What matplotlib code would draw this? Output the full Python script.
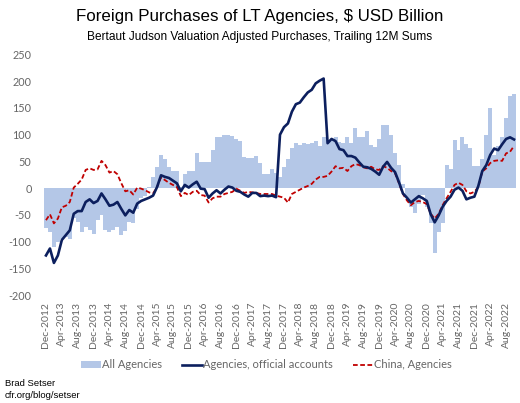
import matplotlib
matplotlib.use("Agg")
import matplotlib.pyplot as plt
import numpy as np
import pandas as pd

# monthly, Dec-2012 .. Oct-2022
months = pd.period_range("2012-12", "2022-10", freq="M")

all_agencies = [
    -74, -82, -110, -100, -95, -92, -95, -55, -63, -82,
    -72, -79, -85, -60, -51, -79, -82, -78, -72, -88,
    -80, -63, -66, -40, -18, -15, 3, 21, 40, 62,
    54, 40, 32, 32, 3, 27, 32, 32, 66, 49,
    49, 49, 71, 96, 96, 100, 100, 97, 92, 88,
    59, 56, 57, 60, 47, 27, 27, 35, 29, 20,
    40, 54, 75, 85, 81, 84, 82, 85, 89, 79,
    96, 90, 92, 95, 87, 85, 95, 84, 112, 95,
    95, 107, 81, 77, 91, 118, 118, 99, 65, 43,
    8, -18, -35, -46, -29, -13, -35, -66, -121, -82,
    -66, 43, 35, 90, 71, 96, 82, 75, 42, 42,
    55, 100, 149, 62, 78, 95, 132, 172, 176,
]

official = [
    -126, -113, -140, -126, -97, -88, -79, -48, -43, -43,
    -26, -21, -28, -24, -10, -21, -33, -31, -26, -39,
    -51, -41, -46, -29, -24, -21, -18, -14, 2, 24,
    21, 19, 14, 9, -6, 6, 1, 7, 12, -1,
    -2, -18, -10, -4, -10, -3, 3, 1, -5, -7,
    -12, -16, -9, -9, -15, -14, -15, -14, -17, 100,
    114, 121, 143, 157, 160, 170, 179, 184, 196, 201,
    205, 84, 92, 88, 73, 71, 60, 60, 57, 48,
    40, 39, 36, 31, 25, 40, 49, 38, 30, 11,
    -10, -18, -27, -21, -15, -19, -24, -49, -64, -51,
    -35, -24, -16, -3, 1, -5, -21, -18, -16, 4,
    32, 43, 62, 74, 71, 82, 92, 95, 91,
]

china = [
    -60, -49, -66, -57, -36, -33, -26, 1, 8, 16,
    34, 37, 34, 35, 51, 43, 29, 32, 26, 9,
    -6, -4, -12, 1, -1, -4, -8, -10, 2, 20,
    15, 10, 6, 2, -15, -9, -13, -7, -5, -13,
    -14, -27, -19, -16, -16, -11, -9, -7, -1, -5,
    -9, -7, -8, -9, -11, -11, -11, -11, -14, -16,
    -18, -27, -11, -7, -3, 1, 4, 8, 16, 21,
    21, 23, 31, 41, 37, 38, 32, 41, 45, 43,
    39, 37, 40, 35, 34, 41, 38, 32, 28, 9,
    -11, -23, -32, -26, -24, -26, -30, -48, -57, -48,
    -32, -19, -7, 6, 10, 6, -6, -10, -7, 2,
    31, 37, 47, 51, 52, 51, 65, 68, 79,
]

y_ticks = list(range(-200, 251, 50))

x = np.arange(len(months))
tick_pos = x[::4]
tick_labels = [m.strftime("%b-%Y") for m in months[::4]]

gray = "#666666"
fig = plt.figure(figsize=(5.2, 4.03), dpi=100)
ax = fig.add_axes([44 / 520, 108 / 403, 472 / 520, 240.5 / 403])

bars = ax.bar(x, all_agencies, width=1.0, color="#b4c7e7", label="All Agencies", zorder=1)
l1, = ax.plot(x, official, color="#0c1f5e", lw=1.9, label="Agencies, official accounts", zorder=3)
l2, = ax.plot(x, china, color="#c00000", lw=1.3, dashes=(2.6, 1.4), label="China, Agencies", zorder=2)

ax.set_xlim(-0.5, len(months) - 0.5)
ax.set_ylim(-200, 250)
ax.set_yticks(y_ticks)
ax.set_yticklabels([str(v) for v in y_ticks], family="Lato", fontsize=7.8, color=gray)
ax.set_xticks(tick_pos)
ax.set_xticklabels(tick_labels, rotation=90, family="Lato", fontsize=7.5, color=gray)
ax.tick_params(axis="both", length=0)
ax.tick_params(axis="y", pad=9)
ax.tick_params(axis="x", pad=5)
for s in ax.spines.values():
    s.set_visible(False)

fig.text(0.5, 1 - 17 / 403, "Foreign Purchases of LT Agencies, \\$ USD Billion",
         ha="center", va="center", family="Liberation Sans", fontsize=12.2)
fig.text(0.5, 1 - 37 / 403, "Bertaut Judson Valuation Adjusted Purchases, Trailing 12M Sums",
         ha="center", va="center", family="Liberation Sans", fontsize=8.6)

leg = fig.legend(handles=[bars, l1, l2], loc="center", bbox_to_anchor=(0.512, 1 - 365 / 403),
                 ncol=3, frameon=False, prop={"family": "Lato", "size": 8},
                 handlelength=1.8, handleheight=0.6, handletextpad=0.1, columnspacing=1.8)
for t in leg.get_texts():
    t.set_color(gray)

fig.text(5 / 520, 1 - 383 / 403, "Brad Setser", ha="left", va="center",
         family="Liberation Sans", fontsize=6.8)
fig.text(5 / 520, 1 - 395 / 403, "cfr.org/blog/setser", ha="left", va="center",
         family="Liberation Sans", fontsize=6.8)

fig.savefig("out.png", dpi=100)
